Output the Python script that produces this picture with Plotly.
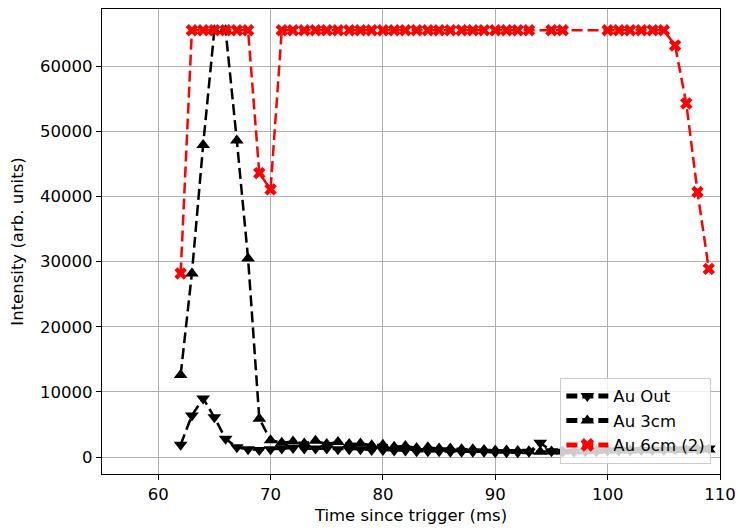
import plotly.graph_objects as go

# Time since trigger (ms)
t_out = list(range(62, 110))
t_3cm = list(range(62, 110))
t_6cm = list(range(62, 94)) + [95, 96] + list(range(100, 110))

# Intensities (arb. units)
au_out = [1900, 6400, 9000, 6100, 2800, 1500, 1200, 1100, 1200, 1300,
          1400, 1300, 1300, 1300, 1200, 1200, 1200, 1100, 1100, 1000,
          1000, 900, 900, 900, 800, 800, 800, 800, 750, 750,
          750, 800, 2200, 900, 800, 800, 900, 900, 1000, 1000,
          1000, 1100, 1100, 1100, 1200, 1200, 1200, 1300]
au_3cm = [12600, 28200, 47900, 65535, 65535, 48600, 30500, 5900, 2600, 2200,
          2400, 2100, 2500, 2000, 2300, 2000, 2100, 1800, 1900, 1600,
          1700, 1400, 1500, 1300, 1300, 1200, 1200, 1100, 1000, 1000,
          950, 900, 800, 850, 850, 900, 900, 950, 1000, 1000,
          1000, 1050, 1050, 1100, 1100, 1100, 1150, 1150]
au_6cm = [28200] + [65535] * 6 + [43600, 41100] + [65535] * 23 \
         + [65535, 65535] + [65535] * 6 + [63200, 54300, 40700, 28900]

FONT = "DejaVu Sans"
LINE_W = 2.5
DASH = "11px,5px"

fig = go.Figure()
fig.add_trace(go.Scatter(
    x=t_out, y=au_out, name="Au Out", mode="lines+markers",
    line=dict(color="black", width=LINE_W, dash=DASH),
    marker=dict(symbol="triangle-down", size=12, color="black"),
))
fig.add_trace(go.Scatter(
    x=t_3cm, y=au_3cm, name="Au 3cm", mode="lines+markers",
    line=dict(color="black", width=LINE_W, dash=DASH),
    marker=dict(symbol="triangle-up", size=12, color="black"),
))
fig.add_trace(go.Scatter(
    x=t_6cm, y=au_6cm, name="Au 6cm (2)", mode="lines+markers",
    line=dict(color="red", width=LINE_W, dash=DASH),
    marker=dict(symbol="x", size=11, color="red"),
))

axis_common = dict(
    showline=True, linecolor="black", linewidth=1.2, mirror=True,
    showgrid=True, gridcolor="#b0b0b0", gridwidth=1,
    zeroline=False, ticks="outside", ticklen=5, tickwidth=1.2,
    tickcolor="black", tickfont=dict(family=FONT, size=16.5, color="black"),
)

fig.update_layout(
    width=744, height=529,
    margin=dict(l=102, r=17, t=8, b=55),
    paper_bgcolor="white", plot_bgcolor="white",
    font=dict(family=FONT, size=16.5, color="black"),
    xaxis=dict(
        range=[55, 110], tickvals=[60, 70, 80, 90, 100, 110],
        title=dict(text="Time since trigger (ms)", standoff=6,
                   font=dict(family=FONT, size=16.5, color="black")),
        **axis_common,
    ),
    yaxis=dict(
        range=[-2600, 68800], tickvals=[0, 10000, 20000, 30000, 40000, 50000, 60000],
        tickformat="d",
        title=dict(text="Intensity (arb. units)", standoff=12,
                   font=dict(family=FONT, size=16.5, color="black")),
        **axis_common,
    ),
    legend=dict(
        x=0.986, y=0.022, xanchor="right", yanchor="bottom",
        bgcolor="rgba(255,255,255,0.8)", bordercolor="#cccccc", borderwidth=1,
        font=dict(family=FONT, size=16.5, color="black"),
        tracegroupgap=0, itemsizing="constant", itemwidth=42,
    ),
    showlegend=True,
)

fig.write_html("out.html")
